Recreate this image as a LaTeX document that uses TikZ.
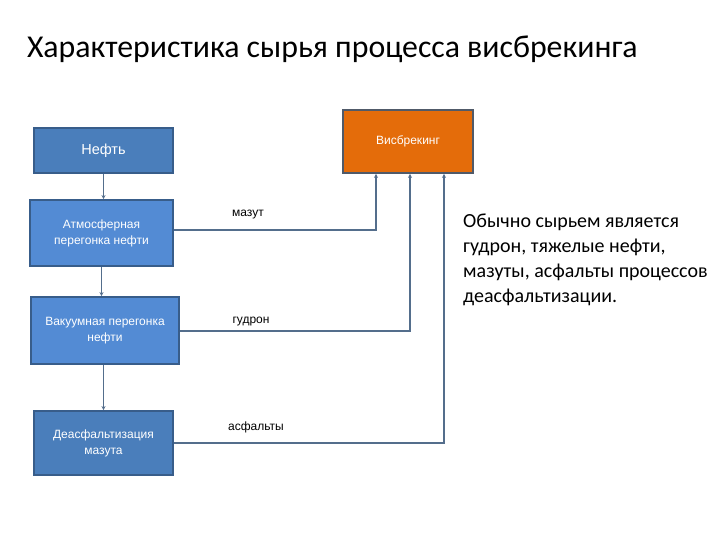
\documentclass[tikz,border=0pt]{standalone}
\usepackage{fontspec}
\setmainfont{Carlito}
\newfontfamily\arialf{Liberation Sans}
\usetikzlibrary{arrows.meta}
\definecolor{darkblue}{RGB}{74,126,187}
\definecolor{lightblue}{RGB}{83,139,212}
\definecolor{boxborder}{RGB}{56,93,138}
\definecolor{orangefill}{RGB}{228,108,10}
\definecolor{orangeborder}{RGB}{80,90,105}
\definecolor{connc}{RGB}{84,110,140}
\tikzset{
  procbox/.style={draw=boxborder, line width=1.8pt, text=white, align=center, inner sep=0pt, font=\arialf\fontsize{12}{16}\selectfont},
  conn/.style={draw=connc, line width=1.6pt},
  tip/.style={-{Stealth[length=4pt,width=4pt]}},
  flowlabel/.style={font=\arialf\fontsize{12}{14}\selectfont, inner sep=0pt}
}
\begin{document}
\begin{tikzpicture}[x=1pt,y=-1pt]
\useasboundingbox[fill=white] (0,0) rectangle (720,540);
\node[anchor=base west, inner sep=0pt, font=\fontsize{31.8}{38}\selectfont] (title) at (27,58) {Характеристика сырья процесса висбрекинга};

\node[procbox, fill=darkblue, minimum width=139pt, minimum height=45pt, font=\arialf\fontsize{14.5}{17}\selectfont] (neft) at (103.5,150.5) {\raisebox{-2pt}{Нефть}};
\node[procbox, fill=lightblue, minimum width=143pt, minimum height=66pt] (atm) at (101.5,233) {Атмосферная\\перегонка нефти};
\node[procbox, fill=lightblue, minimum width=148pt, minimum height=67pt] (vac) at (105,330.5) {Вакуумная перегонка\\нефти};
\node[procbox, fill=darkblue, minimum width=139pt, minimum height=64pt] (deasf) at (103.5,443) {Деасфальтизация\\мазута};
\node[procbox, fill=orangefill, draw=orangeborder, minimum width=130pt, minimum height=63pt] (vis) at (408,141.5) {Висбрекинг};

\coordinate (c1) at (376,230);
\coordinate (c2) at (410,331);
\coordinate (c3) at (444,443);

\draw[conn, tip] (neft.south) -- (neft.south |- atm.north);
\draw[conn, tip] (atm.south) -- (atm.south |- vac.north);
\draw[conn, tip] (deasf.north |- vac.south) -- (deasf.north);

\draw[conn, tip] (atm.east |- c1) -- (c1) -- (c1 |- vis.south);
\draw[conn, tip] (vac.east |- c2) -- (c2) -- (c2 |- vis.south);
\draw[conn, tip] (deasf.east |- c3) -- (c3) -- (c3 |- vis.south);

\node[flowlabel] (l1) at (248,215) {мазут};
\node[flowlabel] (l2) at (251,322) {гудрон};
\node[flowlabel] (l3) at (256,427) {асфальты};

\node[anchor=north west, inner sep=0pt, align=left, font=\fontsize{20}{25}\selectfont] (note) at (463,214) {Обычно сырьем является\\гудрон, тяжелые нефти,\\мазуты, асфальты процессов\\деасфальтизации.};
\end{tikzpicture}
\end{document}
